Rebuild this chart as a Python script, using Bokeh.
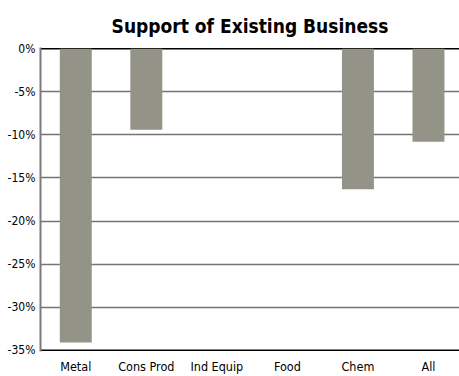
from bokeh.plotting import figure
from bokeh.models import Range1d, FixedTicker, Span, ColumnDataSource
from bokeh.embed import file_html
from bokeh.resources import INLINE

categories = ["Metal", "Cons Prod", "Ind Equip", "Food", "Chem", "All"]
values = [-34.1, -9.4, 0.0, 0.0, -16.3, -10.8]
y_ticks = [0, -5, -10, -15, -20, -25, -30, -35]
y_tick_labels = ["0%", "-5%", "-10%", "-15%", "-20%", "-25%", "-30%", "-35%"]

FONT = "'Liberation Sans Narrow', 'DejaVu Sans Condensed', 'Roboto Condensed', Roboto, sans-serif"

xs = list(range(len(categories)))
src = ColumnDataSource(dict(x=xs, top=[0] * len(values), bottom=values))

p = figure(width=459, height=376, output_backend="svg", toolbar_location=None,
           x_range=Range1d(-0.5, 5.44), y_range=Range1d(-35.15, 0.15),
           title="Support of Existing Business",
           min_border_left=40, min_border_right=0, min_border_top=47, min_border_bottom=14)

p.title.align = "center"
p.title.text_font = FONT
p.title.text_font_size = "19px"
p.title.text_font_style = "bold"
p.title.text_color = "#000000"
p.title.standoff = 21

p.vbar(x="x", top="top", bottom="bottom", width=0.453, source=src,
       fill_color="#939388", line_color=None)

p.outline_line_color = None
p.xgrid.visible = False
p.ygrid.ticker = FixedTicker(ticks=y_ticks[1:-1])
p.ygrid.grid_line_color = "#757575"
p.ygrid.grid_line_width = 1.5
p.ygrid.level = "underlay"

for loc in (y_ticks[0], y_ticks[-1]):
    p.add_layout(Span(location=loc, dimension="width", line_color="#000000",
                      line_width=1.5, level="underlay"))

p.yaxis.ticker = FixedTicker(ticks=y_ticks)
p.yaxis.major_label_overrides = {t: l for t, l in zip(y_ticks, y_tick_labels)}
p.yaxis.axis_line_color = "#7a7a7a"
p.yaxis.axis_line_width = 2
p.yaxis.major_tick_line_color = None
p.yaxis.minor_tick_line_color = None
p.yaxis.major_tick_out = 0
p.yaxis.major_tick_in = 0
p.yaxis.major_label_text_font = FONT
p.yaxis.major_label_text_font_size = "12px"
p.yaxis.major_label_text_color = "#000000"
p.yaxis.major_label_standoff = 5

p.xaxis.ticker = FixedTicker(ticks=xs)
p.xaxis.major_label_overrides = {i: c for i, c in zip(xs, categories)}
p.xaxis.axis_line_color = None
p.xaxis.major_tick_line_color = None
p.xaxis.minor_tick_line_color = None
p.xaxis.major_tick_out = 0
p.xaxis.major_tick_in = 0
p.xaxis.major_label_text_font = FONT
p.xaxis.major_label_text_font_size = "12.5px"
p.xaxis.major_label_text_color = "#000000"
p.xaxis.major_label_standoff = 7

open("out.html", "w").write(file_html(p, INLINE))
